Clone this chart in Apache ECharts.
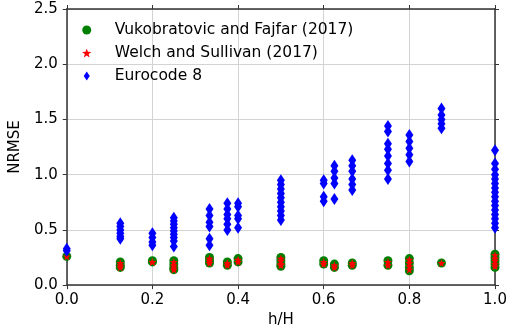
<!DOCTYPE html>
<html>
<head>
<meta charset="utf-8">
<script src="https://cdn.jsdelivr.net/npm/echarts@6/dist/echarts.min.js"></script>
<style>
  html, body { margin: 0; padding: 0; background: #fff; }
  #main { width: 510px; height: 333px; }
</style>
</head>
<body>
<div id="main"></div>
<script>
// h/H positions of the storeys
var hH = [0, 0.125, 0.2, 0.25, 1 / 3, 0.375, 0.4, 0.5, 0.6, 0.625, 2 / 3, 0.75, 0.8, 0.875, 1.0];

// NRMSE per h/H column
var vukobratovic = [
    [0.26],
    [0.21, 0.18, 0.16],
    [0.22, 0.21],
    [0.22, 0.19, 0.16, 0.14],
    [0.25, 0.22, 0.20],
    [0.21, 0.18],
    [0.24, 0.21],
    [0.25, 0.22, 0.19, 0.17],
    [0.22, 0.19],
    [0.19, 0.16],
    [0.20, 0.18],
    [0.22, 0.18],
    [0.24, 0.20, 0.16, 0.13],
    [0.20],
    [0.28, 0.25, 0.22, 0.19, 0.16]
];
var welch = [
    [0.26],
    [0.20, 0.18, 0.16],
    [0.21, 0.21],
    [0.21, 0.18, 0.16, 0.14],
    [0.24, 0.22, 0.20],
    [0.20, 0.18],
    [0.23, 0.21],
    [0.24, 0.22, 0.19, 0.18],
    [0.21, 0.19],
    [0.18, 0.16],
    [0.20, 0.18],
    [0.21, 0.18],
    [0.23, 0.20, 0.17, 0.14],
    [0.20],
    [0.27, 0.24, 0.22, 0.19, 0.17]
];
var eurocode = [
    [0.33, 0.31],
    [0.56, 0.53, 0.50, 0.47, 0.44, 0.42],
    [0.47, 0.43, 0.39, 0.36],
    [0.61, 0.58, 0.55, 0.52, 0.49, 0.46, 0.43, 0.40, 0.35],
    [0.69, 0.63, 0.57, 0.53, 0.42, 0.36],
    [0.74, 0.69, 0.64, 0.60, 0.55, 0.50],
    [0.74, 0.71, 0.63, 0.60, 0.52],
    [0.95, 0.91, 0.87, 0.83, 0.79, 0.75, 0.71, 0.67, 0.63, 0.59],
    [0.95, 0.92, 0.80, 0.76],
    [1.08, 1.03, 0.97, 0.92, 0.78],
    [1.13, 1.08, 1.03, 0.96, 0.91, 0.86],
    [1.44, 1.39, 1.28, 1.23, 1.17, 1.10, 1.04, 0.96],
    [1.36, 1.30, 1.24, 1.18, 1.12],
    [1.60, 1.54, 1.50, 1.46, 1.42],
    [1.22, 1.10, 1.05, 1.00, 0.96, 0.92, 0.88, 0.84, 0.80, 0.76, 0.72, 0.68, 0.64, 0.60, 0.56, 0.52]
];

var xTicks = ['0.0', '0.2', '0.4', '0.6', '0.8', '1.0'];
var yTicks = ['0.0', '0.5', '1.0', '1.5', '2.0', '2.5'];

var starPath = 'path://M0,-10L2.35,-3.24L9.51,-3.09L3.8,1.24L5.88,8.09L0,4L-5.88,8.09L-3.8,1.24L-9.51,-3.09L-2.35,-3.24Z';
var diamondPath = 'path://M0,-6L4,0L0,6L-4,0Z';
var font = 'DejaVu Sans';

function pairs(cols) {
    var out = [];
    for (var i = 0; i < cols.length; i++) {
        for (var j = 0; j < cols[i].length; j++) {
            out.push([hH[i], cols[i][j]]);
        }
    }
    return out;
}

function axisBase(pos, ticks, showLabel) {
    var vertical = pos === 'left' || pos === 'right';
    var step = vertical ? 0.5 : 0.2;
    return {
        type: 'value',
        position: pos,
        min: 0,
        max: vertical ? 2.5 : 1,
        interval: step,
        axisLine: { show: true, onZero: false, lineStyle: { color: '#333', width: 1.5 } },
        axisTick: { show: true, inside: false, length: 4, lineStyle: { color: '#333', width: 1 } },
        axisLabel: {
            show: showLabel,
            fontFamily: font,
            fontSize: 15,
            color: '#000',
            formatter: function (v) {
                return ticks[Math.round(v / step)];
            }
        },
        splitLine: { show: showLabel, lineStyle: { color: '#d3d3d3', width: 1 } }
    };
}

var chart = echarts.init(document.getElementById('main'));

var xBottom = axisBase('bottom', xTicks, true);
xBottom.name = 'h/H';
xBottom.nameLocation = 'middle';
xBottom.nameGap = 24;
xBottom.nameTextStyle = { fontFamily: font, fontSize: 15, color: '#000' };
xBottom.axisLabel.margin = 8;

var yLeft = axisBase('left', yTicks, true);
yLeft.name = 'NRMSE';
yLeft.nameLocation = 'middle';
yLeft.nameGap = 38;
yLeft.nameTextStyle = { fontFamily: font, fontSize: 15, color: '#000' };
yLeft.axisLabel.margin = 9;

var option = {
    backgroundColor: '#fff',
    animation: false,
    grid: { left: 57, right: 15, top: 9, bottom: 46 },
    legend: {
        orient: 'vertical',
        left: 77,
        top: 17,
        itemWidth: 46,
        itemHeight: 9,
        itemGap: 7,
        textStyle: { fontFamily: font, fontSize: 15.5, color: '#000' },
        data: ['Vukobratovic and Fajfar (2017)', 'Welch and Sullivan (2017)', 'Eurocode 8']
    },
    xAxis: [xBottom, axisBase('top', xTicks, false)],
    yAxis: [yLeft, axisBase('right', yTicks, false)],
    series: [{
        name: 'Vukobratovic and Fajfar (2017)',
        type: 'scatter',
        symbol: 'circle',
        symbolSize: 9,
        itemStyle: { color: '#008000', opacity: 1 },
        data: pairs(vukobratovic)
    }, {
        name: 'Welch and Sullivan (2017)',
        type: 'scatter',
        symbol: starPath,
        symbolSize: 8,
        itemStyle: { color: '#ff0000', opacity: 1 },
        data: pairs(welch)
    }, {
        name: 'Eurocode 8',
        type: 'scatter',
        symbol: diamondPath,
        symbolSize: [8, 12],
        itemStyle: { color: '#0000ff', opacity: 1 },
        data: pairs(eurocode)
    }]
};

chart.setOption(option);
</script>
</body>
</html>
